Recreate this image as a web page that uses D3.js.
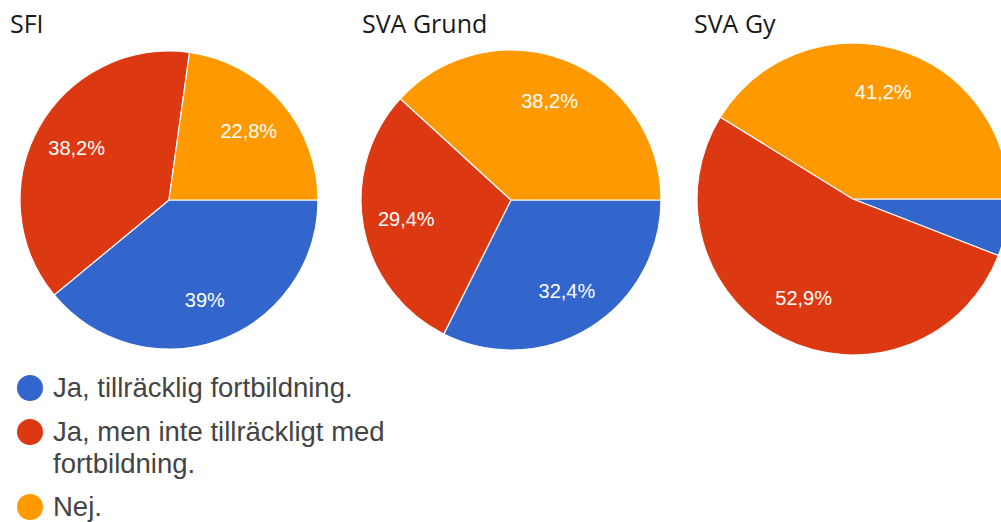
<!DOCTYPE html>
<html>
<head>
<meta charset="utf-8">
<script src="https://cdn.jsdelivr.net/npm/d3@7"></script>
<style>
  body { margin: 0; background: #fff; }
  svg { display: block; }
</style>
</head>
<body>
<div id="canvas"></div>
<script>
// Kategorier (samma i alla tre diagram)
const categories = ["Ja, tillräcklig fortbildning.", "Ja, men inte tillräckligt med fortbildning.", "Nej."];
const colors = ["#3366cc", "#dc3912", "#ff9900"];

// Andelar i procent per kurs
const sfiValues = [39, 38.2, 22.8];
const svaGrundValues = [32.4, 29.4, 38.2];
const svaGyValues = [5.9, 52.9, 41.2];

const titles = ["SFI", "SVA Grund", "SVA Gy"];

// Legendrader (den andra kategorin bryts på två rader)
const legendLines = [["Ja, tillräcklig fortbildning."], ["Ja, men inte tillräckligt med", "fortbildning."], ["Nej."]];

const width = 1001;
const height = 522;

const svg = d3.select("#canvas").append("svg")
    .attr("width", width)
    .attr("height", height);

// Placering av varje cirkel
const charts = [
    {title: titles[0], values: sfiValues, cx: 169, cy: 200, r: 149, tx: 10},
    {title: titles[1], values: svaGrundValues, cx: 511, cy: 200, r: 150, tx: 362},
    {title: titles[2], values: svaGyValues, cx: 853, cy: 199, r: 156, tx: 694}
];

const color = d3.scaleOrdinal().domain(categories).range(colors);

// Google-stil: start vid klockan tre, medurs
const pie = d3.pie()
    .sort(null)
    .startAngle(Math.PI / 2)
    .endAngle(Math.PI / 2 + 2 * Math.PI)
    .value(d => d.value);

const fmt = v => String(v).replace(".", ",") + "%";

charts.forEach(c => {
    const data = categories.map((k, i) => ({key: k, value: c.values[i]}));

    svg.append("text")
        .attr("x", c.tx)
        .attr("y", 33)
        .style("font-family", "'Open Sans', sans-serif")
        .style("font-size", "25px")
        .attr("fill", "#1a1a1a")
        .text(c.title);

    const g = svg.append("g").attr("transform", `translate(${c.cx}, ${c.cy})`);

    const arc = d3.arc().innerRadius(0).outerRadius(c.r);
    const labelArc = d3.arc().innerRadius(c.r * 0.71).outerRadius(c.r * 0.71);

    const arcs = pie(data);

    g.selectAll("path")
        .data(arcs)
        .enter().append("path")
        .attr("d", arc)
        .attr("fill", d => color(d.data.key))
        .attr("stroke", "#fff")
        .attr("stroke-width", 1.2);

    g.selectAll("text")
        .data(arcs.filter(d => d.data.value >= 10))
        .enter().append("text")
        .attr("transform", d => `translate(${labelArc.centroid(d)})`)
        .attr("text-anchor", "middle")
        .attr("dominant-baseline", "central")
        .style("font-family", "Arial, 'Liberation Sans', sans-serif")
        .style("font-size", "20px")
        .attr("fill", "#fff")
        .text(d => fmt(d.data.value));
});

// Legend
const legendY = [388, 432, 507];
const legend = svg.append("g");

legendLines.forEach((lines, i) => {
    legend.append("circle")
        .attr("cx", 30)
        .attr("cy", legendY[i])
        .attr("r", 13)
        .attr("fill", colors[i]);

    lines.forEach((t, j) => {
        legend.append("text")
            .attr("x", 53)
            .attr("y", legendY[i] + 9 + j * 32)
            .style("font-family", "Arial, 'Liberation Sans', sans-serif")
            .style("font-size", "27.5px")
            .attr("fill", "#444")
            .text(t);
    });
});
</script>
</body>
</html>
